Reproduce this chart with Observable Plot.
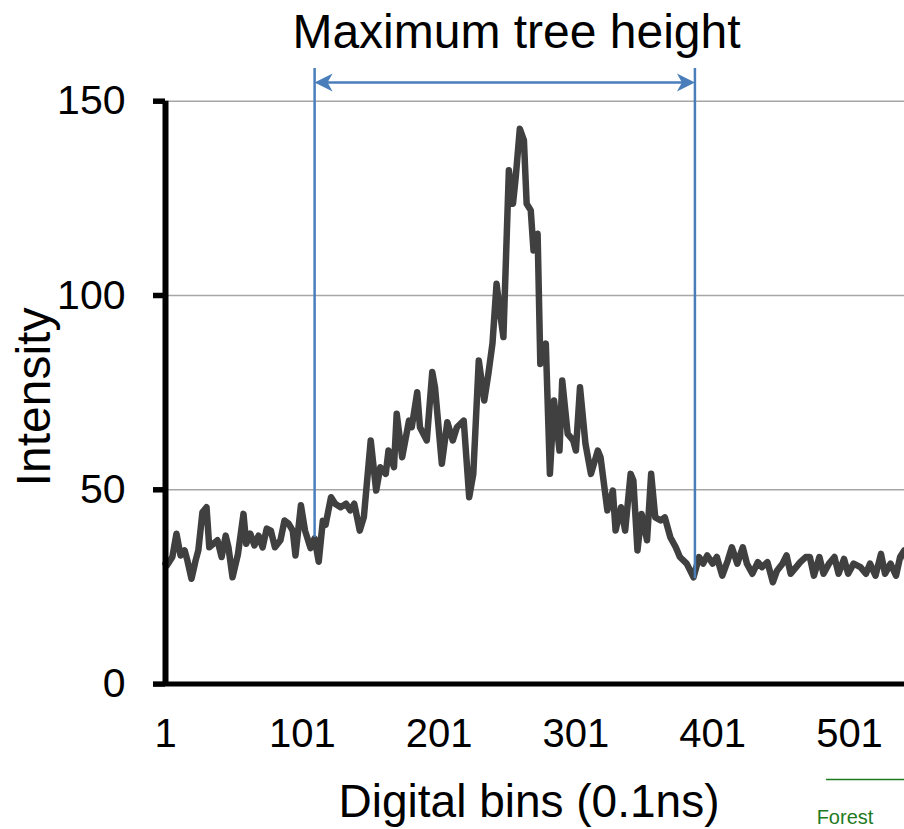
<!DOCTYPE html>
<html><head><meta charset="utf-8">
<script src="https://cdn.jsdelivr.net/npm/d3@7"></script>
<script src="https://cdn.jsdelivr.net/npm/@observablehq/plot@0.6"></script>
<style>
body{margin:0;background:#fff;}
#wrap{position:relative;width:904px;height:829px;overflow:hidden;}
</style></head><body><div id="wrap"></div>
<script>
// Values (bin index, intensity)
const bins = [1,2,6,9,12,15,17,20,23,25,28,31,33,36,39,42,45,47,50,54,58,60,63,66,69,72,75,78,81,85,88,91,94,96,100,103,107,110,113,116,118,122,125,129,133,136,139,143,146,151,155,158,162,164,168,170,174,179,181,185,187,192,196,198,203,207,211,214,219,223,226,230,234,237,240,243,246,248,252,255,257,260,263,265,268,270,273,275,279,282,285,289,291,295,299,301,304,308,312,317,319,324,328,330,334,337,341,343,346,349,353,356,359,363,366,370,374,377,382,387,391,394,397,401,404,408,412,415,419,423,426,430,434,437,441,445,448,452,455,458,462,465,469,472,475,479,482,486,490,493,497,500,504,509,513,516,520,524,527,531,535,538,541,544];
const intensity = [31,30.5,32.7,38.7,33.1,34.4,31.8,27.1,31.8,34.4,44.2,45.5,35.2,36.1,37.0,32.7,38.2,35.2,27.5,33.5,43.8,36.1,38.7,35.7,38.2,35.2,40.0,39.5,35.2,37.0,42.1,41.3,39.5,33.1,46.0,39.5,35.0,37.5,31.5,42.0,41.0,48.1,46.4,45.5,46.4,44.7,46.4,39.5,43.0,62.7,49.8,55.8,54.1,60.1,55.8,69.6,58.4,67.8,66.1,75.1,66.1,62.7,80.3,76.4,56.7,67.4,62.7,66.1,67.8,48.1,54.1,83.3,73.0,79.8,87.6,103.0,94.4,89.3,132.2,123.6,130.4,142.9,139.9,123.6,121.9,111.6,115.9,82.4,87.6,54.1,73.0,60.1,78.1,64.4,62.7,60.1,76.4,61.8,54.1,60.1,58.4,44.7,49.8,39.5,45.5,39.5,54.1,52.4,34.4,43.8,37.0,54.1,42.9,42.1,42.9,37.8,35.2,32.7,31.0,27.5,32.7,31.0,33.1,31.0,32.7,27.9,31.8,35.2,31.0,35.2,31.0,28.4,31.4,30.1,31.4,26.2,29.2,31.0,33.1,28.4,30.1,31.4,32.7,32.7,27.9,32.7,28.4,31.0,32.7,28.4,32.2,28.4,31.0,30.1,28.4,31.0,27.9,33.5,28.4,31.0,27.9,32.7,34.4,31.0];
const yTicks = [0, 50, 100, 150];
const xTicks = [1, 101, 201, 301, 401, 501];
// "Maximum tree height" span markers
const markerBins = [110, 388];
const markerBase = [37.7, 27.1];
const markerTop = 158.4;
const arrowLevel = 154.8;

const data = bins.map((b, i) => ({bin: b, value: intensity[i]}));
const markers = markerBins.map((b, i) => ({bin: b, base: markerBase[i]}));
const heads = [{bin: markerBins[0], y: arrowLevel, rot: 180}, {bin: markerBins[1], y: arrowLevel, rot: 0}];

const BLUE = "#4a7ebb";
const FONT = "'Liberation Sans', Arial, sans-serif";

const stealth = {
  draw(ctx, size) {
    const s = Math.sqrt(size / Math.PI);
    const L = s * 2, W = s;
    ctx.moveTo(0, 0);
    ctx.lineTo(-L, -W);
    ctx.lineTo(-0.72 * L, 0);
    ctx.lineTo(-L, W);
    ctx.closePath();
  }
};

const chart = Plot.plot({
  width: 904,
  height: 829,
  marginLeft: 165,
  marginRight: 0,
  marginTop: 100.7,
  marginBottom: 145.4,
  style: {fontFamily: FONT, background: "#fff", color: "#000", overflow: "visible"},
  x: {type: "linear", domain: [1, 541.2]},
  y: {domain: [0, 150]},
  marks: [
    Plot.ruleY([50, 100, 150], {stroke: "#a6a6a6", strokeWidth: 1.5}),
    Plot.line(data, {x: "bin", y: "value", stroke: "#404040", strokeWidth: 6.5, strokeLinejoin: "round", strokeLinecap: "round"}),
    Plot.ruleX(markers, {x: "bin", y1: "base", y2: markerTop, stroke: BLUE, strokeWidth: 2.5}),
    Plot.ruleY([arrowLevel], {x1: markerBins[0] + 2, x2: markerBins[1] - 2, stroke: BLUE, strokeWidth: 2.5}),
    Plot.dot(heads, {x: "bin", y: "y", rotate: "rot", r: 9, symbol: stealth, fill: BLUE, stroke: "none"}),
    Plot.axisY({ticks: yTicks, tickSize: 12, tickPadding: 28, fontSize: 41, strokeWidth: 5.5, color: "#000", label: null}),
    Plot.axisX({ticks: xTicks, tickSize: 0, tickPadding: 34, fontSize: 40, color: "#000", label: null}),
    Plot.ruleX([1], {y1: 0, y2: 150, stroke: "#000", strokeWidth: 6}),
    Plot.ruleY([0], {stroke: "#000", strokeWidth: 5})
  ]
});

document.getElementById("wrap").appendChild(chart);

const svg = d3.select(chart);
svg.append("text").text("Maximum tree height")
  .attr("x", 516.5).attr("y", 48).attr("text-anchor", "middle")
  .attr("font-size", 48).attr("font-family", FONT).attr("fill", "#000");
svg.append("text").text("Intensity")
  .attr("transform", "translate(50,397) rotate(-90)").attr("text-anchor", "middle")
  .attr("font-size", 48).attr("font-family", FONT).attr("fill", "#000");
svg.append("text").text("Digital bins (0.1ns)")
  .attr("x", 529).attr("y", 817).attr("text-anchor", "middle")
  .attr("font-size", 46).attr("font-family", FONT).attr("fill", "#000");
svg.append("line").attr("x1", 826).attr("x2", 904).attr("y1", 779.5).attr("y2", 779.5)
  .attr("stroke", "#1e7a1e").attr("stroke-width", 1.5);
svg.append("text").text("Forest")
  .attr("x", 845).attr("y", 824).attr("font-size", 20).attr("font-family", FONT).attr("fill", "#1e7a1e");
</script></body></html>
